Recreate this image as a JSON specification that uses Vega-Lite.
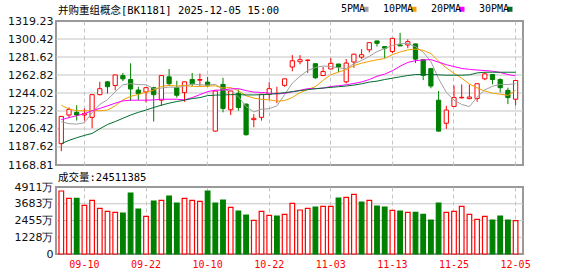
{
  "$schema": "https://vega.github.io/schema/vega-lite/v6.json",
  "background": "white",
  "padding": {"left": 5, "top": 4, "right": 5, "bottom": 2},
  "datasets": {
    "k": [
      {"date":"09-05","open":1191.1,"high":1219.8,"low":1183.2,"close":1219.6,"volume":46180000,"vdir":"up","ma5":1214.0,"ma10":1231.3,"ma20":1216.2,"ma30":1191.1},
      {"date":"09-08","open":1221.0,"high":1229.0,"low":1218.0,"close":1226.9,"volume":40800000,"vdir":"up","ma5":1212.0,"ma10":1227.2,"ma20":1218.3,"ma30":1194.5},
      {"date":"09-09","open":1223.8,"high":1231.3,"low":1215.2,"close":1221.0,"volume":40800000,"vdir":"down","ma5":1211.5,"ma10":1225.5,"ma20":1220.3,"ma30":1197.3},
      {"date":"09-10","open":1221.0,"high":1227.9,"low":1215.2,"close":1222.4,"volume":35670000,"vdir":"up","ma5":1213.0,"ma10":1225.5,"ma20":1222.4,"ma30":1199.7},
      {"date":"09-11","open":1218.6,"high":1242.5,"low":1207.3,"close":1242.3,"volume":39340000,"vdir":"up","ma5":1223.5,"ma10":1225.5,"ma20":1225.5,"ma30":1201.8},
      {"date":"09-12","open":1242.3,"high":1255.7,"low":1241.5,"close":1248.5,"volume":33470000,"vdir":"up","ma5":1232.2,"ma10":1225.5,"ma20":1227.9,"ma30":1206.6},
      {"date":"09-15","open":1255.7,"high":1256.2,"low":1243.4,"close":1250.6,"volume":31270000,"vdir":"up","ma5":1237.0,"ma10":1226.2,"ma20":1230.6,"ma30":1211.1},
      {"date":"09-16","open":1251.9,"high":1263.2,"low":1246.8,"close":1262.9,"volume":30540000,"vdir":"up","ma5":1245.3,"ma10":1230.6,"ma20":1233.4,"ma30":1214.2},
      {"date":"09-17","open":1262.2,"high":1265.0,"low":1256.4,"close":1258.8,"volume":30050000,"vdir":"down","ma5":1252.6,"ma10":1236.8,"ma20":1235.8,"ma30":1217.6},
      {"date":"09-18","open":1258.1,"high":1275.0,"low":1235.8,"close":1248.2,"volume":44710000,"vdir":"down","ma5":1253.8,"ma10":1240.5,"ma20":1236.5,"ma30":1221.0},
      {"date":"09-19","open":1247.1,"high":1250.6,"low":1236.5,"close":1243.4,"volume":32980000,"vdir":"down","ma5":1252.8,"ma10":1242.5,"ma20":1236.5,"ma30":1223.8},
      {"date":"09-22","open":1245.1,"high":1250.0,"low":1234.1,"close":1249.6,"volume":27610000,"vdir":"up","ma5":1252.6,"ma10":1244.8,"ma20":1236.5,"ma30":1226.2},
      {"date":"09-23","open":1249.6,"high":1250.6,"low":1214.2,"close":1242.3,"volume":38850000,"vdir":"down","ma5":1248.5,"ma10":1246.9,"ma20":1236.8,"ma30":1228.9},
      {"date":"09-24","open":1236.5,"high":1262.9,"low":1230.6,"close":1262.2,"volume":39340000,"vdir":"up","ma5":1249.1,"ma10":1250.9,"ma20":1237.5,"ma30":1231.3},
      {"date":"09-25","open":1260.9,"high":1269.1,"low":1251.3,"close":1253.7,"volume":42510000,"vdir":"down","ma5":1250.2,"ma10":1252.0,"ma20":1237.5,"ma30":1233.4},
      {"date":"09-26","open":1249.6,"high":1256.8,"low":1239.2,"close":1241.7,"volume":37380000,"vdir":"down","ma5":1249.9,"ma10":1251.3,"ma20":1237.5,"ma30":1235.1},
      {"date":"09-29","open":1244.4,"high":1256.0,"low":1234.8,"close":1255.7,"volume":40800000,"vdir":"up","ma5":1251.1,"ma10":1251.9,"ma20":1236.8,"ma30":1236.5},
      {"date":"09-30","open":1258.1,"high":1265.0,"low":1251.3,"close":1253.7,"volume":39340000,"vdir":"up","ma5":1253.4,"ma10":1250.9,"ma20":1239.2,"ma30":1238.2},
      {"date":"10-09","open":1257.4,"high":1264.3,"low":1251.3,"close":1258.1,"volume":38600000,"vdir":"up","ma5":1252.6,"ma10":1250.9,"ma20":1242.3,"ma30":1239.2},
      {"date":"10-10","open":1255.4,"high":1260.9,"low":1250.6,"close":1252.0,"volume":46180000,"vdir":"down","ma5":1252.2,"ma10":1251.2,"ma20":1245.5,"ma30":1241.3},
      {"date":"10-13","open":1204.2,"high":1246.5,"low":1203.8,"close":1246.1,"volume":37380000,"vdir":"down","ma5":1253.1,"ma10":1251.5,"ma20":1247.0,"ma30":1241.8},
      {"date":"10-14","open":1253.0,"high":1259.9,"low":1223.8,"close":1227.9,"volume":39580000,"vdir":"down","ma5":1247.6,"ma10":1249.3,"ma20":1247.1,"ma30":1242.0},
      {"date":"10-15","open":1226.5,"high":1246.5,"low":1221.0,"close":1246.1,"volume":34200000,"vdir":"up","ma5":1246.0,"ma10":1249.7,"ma20":1248.3,"ma30":1242.3},
      {"date":"10-16","open":1243.7,"high":1247.8,"low":1225.5,"close":1228.9,"volume":31520000,"vdir":"down","ma5":1240.2,"ma10":1246.4,"ma20":1248.6,"ma30":1242.3},
      {"date":"10-17","open":1232.4,"high":1233.0,"low":1199.7,"close":1200.4,"volume":28590000,"vdir":"down","ma5":1229.9,"ma10":1241.1,"ma20":1246.5,"ma30":1242.0},
      {"date":"10-20","open":1216.2,"high":1222.0,"low":1208.3,"close":1217.6,"volume":24680000,"vdir":"up","ma5":1224.2,"ma10":1238.7,"ma20":1245.0,"ma30":1242.0},
      {"date":"10-21","open":1218.6,"high":1243.0,"low":1215.2,"close":1242.7,"volume":31270000,"vdir":"up","ma5":1227.1,"ma10":1237.4,"ma20":1244.6,"ma30":1242.3},
      {"date":"10-22","open":1242.7,"high":1255.4,"low":1237.5,"close":1248.5,"volume":28340000,"vdir":"up","ma5":1227.6,"ma10":1236.9,"ma20":1243.9,"ma30":1242.7},
      {"date":"10-23","open":1243.4,"high":1250.6,"low":1233.4,"close":1243.7,"volume":27850000,"vdir":"down","ma5":1230.6,"ma10":1235.5,"ma20":1243.1,"ma30":1243.4},
      {"date":"10-24","open":1252.0,"high":1259.0,"low":1250.6,"close":1258.8,"volume":29070000,"vdir":"up","ma5":1242.3,"ma10":1236.1,"ma20":1243.6,"ma30":1244.4},
      {"date":"10-27","open":1271.2,"high":1283.6,"low":1266.7,"close":1277.7,"volume":37140000,"vdir":"up","ma5":1254.3,"ma10":1239.3,"ma20":1245.3,"ma30":1245.4},
      {"date":"10-28","open":1276.7,"high":1283.6,"low":1274.0,"close":1278.8,"volume":32250000,"vdir":"up","ma5":1261.5,"ma10":1244.4,"ma20":1246.8,"ma30":1246.5},
      {"date":"10-29","open":1278.1,"high":1278.6,"low":1265.0,"close":1278.4,"volume":33470000,"vdir":"up","ma5":1267.5,"ma10":1247.6,"ma20":1248.6,"ma30":1247.5},
      {"date":"10-30","open":1274.6,"high":1275.0,"low":1258.8,"close":1259.9,"volume":34450000,"vdir":"down","ma5":1270.7,"ma10":1250.7,"ma20":1248.5,"ma30":1248.5},
      {"date":"10-31","open":1262.3,"high":1271.2,"low":1261.6,"close":1266.4,"volume":34940000,"vdir":"up","ma5":1272.2,"ma10":1257.3,"ma20":1249.1,"ma30":1249.2},
      {"date":"11-03","open":1269.1,"high":1280.5,"low":1269.0,"close":1275.0,"volume":34940000,"vdir":"up","ma5":1271.7,"ma10":1263.1,"ma20":1250.8,"ma30":1249.9},
      {"date":"11-04","open":1274.3,"high":1274.5,"low":1265.7,"close":1271.2,"volume":41050000,"vdir":"down","ma5":1270.2,"ma10":1265.9,"ma20":1251.6,"ma30":1250.6},
      {"date":"11-05","open":1255.7,"high":1279.5,"low":1254.0,"close":1275.3,"volume":41540000,"vdir":"up","ma5":1269.6,"ma10":1268.6,"ma20":1252.6,"ma30":1251.3},
      {"date":"11-06","open":1276.4,"high":1285.0,"low":1270.2,"close":1284.6,"volume":43730000,"vdir":"up","ma5":1274.5,"ma10":1272.7,"ma20":1254.0,"ma30":1252.3},
      {"date":"11-07","open":1281.5,"high":1289.8,"low":1279.4,"close":1284.0,"volume":38120000,"vdir":"down","ma5":1278.0,"ma10":1275.2,"ma20":1255.6,"ma30":1253.6},
      {"date":"11-10","open":1289.1,"high":1297.0,"low":1286.3,"close":1296.6,"volume":39340000,"vdir":"up","ma5":1282.3,"ma10":1277.0,"ma20":1258.1,"ma30":1255.4},
      {"date":"11-11","open":1298.4,"high":1298.6,"low":1292.5,"close":1295.9,"volume":35180000,"vdir":"down","ma5":1287.3,"ma10":1278.7,"ma20":1261.5,"ma30":1256.4},
      {"date":"11-12","open":1292.5,"high":1292.8,"low":1280.5,"close":1290.8,"volume":34450000,"vdir":"down","ma5":1290.4,"ma10":1280.0,"ma20":1263.7,"ma30":1258.1},
      {"date":"11-13","open":1287.4,"high":1301.5,"low":1285.6,"close":1301.1,"volume":32010000,"vdir":"up","ma5":1293.7,"ma10":1284.1,"ma20":1267.3,"ma30":1259.5},
      {"date":"11-14","open":1294.2,"high":1306.9,"low":1293.0,"close":1293.2,"volume":31520000,"vdir":"down","ma5":1295.5,"ma10":1286.8,"ma20":1272.0,"ma30":1260.9},
      {"date":"11-17","open":1294.2,"high":1300.0,"low":1290.8,"close":1297.6,"volume":30540000,"vdir":"up","ma5":1295.7,"ma10":1289.0,"ma20":1276.0,"ma30":1262.3},
      {"date":"11-18","open":1295.3,"high":1295.5,"low":1275.3,"close":1279.4,"volume":30540000,"vdir":"down","ma5":1292.4,"ma10":1289.9,"ma20":1277.8,"ma30":1263.3},
      {"date":"11-19","open":1278.8,"high":1279.0,"low":1257.5,"close":1262.3,"volume":29070000,"vdir":"down","ma5":1286.7,"ma10":1288.6,"ma20":1278.5,"ma30":1263.3},
      {"date":"11-20","open":1269.5,"high":1269.8,"low":1248.9,"close":1251.3,"volume":24920000,"vdir":"down","ma5":1276.8,"ma10":1285.2,"ma20":1278.9,"ma30":1263.3},
      {"date":"11-21","open":1236.5,"high":1246.1,"low":1203.8,"close":1204.2,"volume":37380000,"vdir":"down","ma5":1259.0,"ma10":1277.3,"ma20":1276.2,"ma30":1263.0},
      {"date":"11-24","open":1212.4,"high":1230.6,"low":1206.6,"close":1226.2,"volume":30540000,"vdir":"up","ma5":1244.7,"ma10":1270.3,"ma20":1273.6,"ma30":1262.6},
      {"date":"11-25","open":1230.0,"high":1251.9,"low":1229.9,"close":1239.2,"volume":31270000,"vdir":"up","ma5":1236.6,"ma10":1264.6,"ma20":1271.6,"ma30":1262.6},
      {"date":"11-26","open":1239.0,"high":1253.0,"low":1238.2,"close":1239.5,"volume":34940000,"vdir":"up","ma5":1232.1,"ma10":1259.5,"ma20":1269.7,"ma30":1262.6},
      {"date":"11-27","open":1238.1,"high":1253.0,"low":1237.5,"close":1239.8,"volume":29070000,"vdir":"up","ma5":1229.8,"ma10":1253.4,"ma20":1268.7,"ma30":1263.0},
      {"date":"11-28","open":1238.2,"high":1254.0,"low":1234.8,"close":1253.7,"volume":25410000,"vdir":"up","ma5":1239.7,"ma10":1249.4,"ma20":1268.0,"ma30":1265.0},
      {"date":"12-01","open":1258.8,"high":1265.7,"low":1257.4,"close":1264.0,"volume":27610000,"vdir":"up","ma5":1247.2,"ma10":1246.1,"ma20":1267.5,"ma30":1265.7},
      {"date":"12-02","open":1263.3,"high":1263.5,"low":1253.0,"close":1258.1,"volume":24920000,"vdir":"down","ma5":1251.0,"ma10":1243.9,"ma20":1266.8,"ma30":1265.7},
      {"date":"12-03","open":1258.1,"high":1259.4,"low":1244.6,"close":1249.6,"volume":27850000,"vdir":"down","ma5":1253.0,"ma10":1242.7,"ma20":1265.5,"ma30":1265.7},
      {"date":"12-04","open":1246.8,"high":1249.6,"low":1232.4,"close":1239.2,"volume":24920000,"vdir":"down","ma5":1252.9,"ma10":1241.5,"ma20":1263.3,"ma30":1265.7},
      {"date":"12-05","open":1237.5,"high":1257.4,"low":1231.0,"close":1257.1,"volume":24511385,"vdir":"up","ma5":1253.6,"ma10":1246.8,"ma20":1261.9,"ma30":1265.7}
    ],
    "pgrid": [{"level": 1187.62}, {"level": 1206.42}, {"level": 1225.22}, {"level": 1244.02}, {"level": 1262.82}, {"level": 1281.62}, {"level": 1300.42}],
    "vgrid": [{"level": 12280000}, {"level": 24550000}, {"level": 36830000}]
  },
  "data": {"name": "k"},
  "spacing": 22,
  "bounds": "flush",
  "config": {
    "view": {"stroke": "#999999", "strokeWidth": 2},
    "axis": {"title": null, "domain": false, "ticks": false},
    "axisY": {"labelFont": "DejaVu Sans", "labelFontSize": 11, "labelColor": "#111111", "labelPadding": 3, "minExtent": 50, "maxExtent": 50, "labelFlush": false, "labelOverlap": false, "grid": false, "tickCount": 12},
    "axisX": {"gridDash": [4, 3], "gridColor": "#c4c4c4", "bandPosition": 0.5, "labelFont": "DejaVu Sans Mono", "labelFontSize": 10, "labelColor": "#ff0000", "labelAngle": 0, "labelPadding": 5, "labelFlush": false, "labelOverlap": false},
    "title": {"font": "DejaVu Sans Mono, Noto Sans CJK SC", "fontSize": 10.5, "fontWeight": "normal", "color": "#000000", "anchor": "start", "frame": "group"}
  },
  "vconcat": [
    {
      "width": 467,
      "height": 144,
      "title": {"text": "并购重组概念[BK1181] 2025-12-05 15:00", "offset": -1, "dx": 2},
      "layer": [
        {
          "data": {"name": "pgrid"},
          "mark": {"type": "rule", "color": "#c4c4c4", "strokeWidth": 1},
          "encoding": {"y": {"field": "level", "type": "quantitative"}}
        },
        {
          "mark": {"type": "rule", "strokeWidth": 1},
          "encoding": {
            "x": {"field": "date", "type": "ordinal", "sort": null,
                  "scale": {"type": "band", "paddingInner": 0, "paddingOuter": 0.325, "align": 0.29},
                  "axis": {"values": ["09-10","09-22","10-10","10-22","11-03","11-13","11-25","12-05"], "labels": false, "grid": true}},
            "y": {"field": "low", "type": "quantitative",
                  "scale": {"domain": [1168.81, 1319.23], "nice": false, "zero": false},
                  "axis": {"values": [1168.81, 1187.62, 1206.42, 1225.22, 1244.02, 1262.82, 1281.62, 1300.42, 1319.23], "tickCount": 12, "format": ".2f", "labelOverlap": false}},
            "y2": {"field": "high"},
            "color": {"condition": {"test": "datum.close >= datum.open", "value": "#ff0000"}, "value": "#008000"}
          }
        },
        {
          "mark": {"type": "bar", "width": {"band": 0.55}, "strokeWidth": 1},
          "encoding": {
            "x": {"field": "date", "type": "ordinal", "sort": null},
            "y": {"field": "open", "type": "quantitative"},
            "y2": {"field": "close"},
            "fill": {"condition": {"test": "datum.close >= datum.open", "value": "#ffffff"}, "value": "#008000"},
            "stroke": {"condition": {"test": "datum.close >= datum.open", "value": "#ff0000"}, "value": "#008000"}
          }
        },
        {
          "transform": [{"fold": ["ma5", "ma10", "ma20", "ma30"], "as": ["ma", "val"]}],
          "mark": {"type": "line", "strokeWidth": 1},
          "encoding": {
            "x": {"field": "date", "type": "ordinal", "sort": null},
            "y": {"field": "val", "type": "quantitative"},
            "color": {"field": "ma", "type": "nominal",
                      "scale": {"domain": ["ma5", "ma10", "ma20", "ma30"], "range": ["#a0a0a0", "#f0a000", "#ff00ff", "#006e30"]},
                      "legend": {"orient": "none", "legendX": 305, "legendY": -17, "direction": "horizontal", "title": null,
                                 "symbolType": "square", "symbolSize": 1, "symbolStrokeWidth": 4,
                                 "labelFont": "DejaVu Sans Mono", "labelFontSize": 10, "labelColor": "#000000",
                                 "labelAlign": "right", "labelOffset": -6, "columnPadding": 7,
                                 "labelExpr": "datum.label == 'ma5' ? '5PMA' : datum.label == 'ma10' ? '10PMA' : datum.label == 'ma20' ? '20PMA' : '30PMA'"}}
          }
        }
      ]
    },
    {
      "width": 467,
      "height": 67,
      "title": {"text": "成交量:24511385", "offset": -2, "dx": 2},
      "layer": [
        {
          "data": {"name": "vgrid"},
          "mark": {"type": "rule", "color": "#c4c4c4", "strokeWidth": 1},
          "encoding": {"y": {"field": "level", "type": "quantitative"}}
        },
        {
          "mark": {"type": "bar", "width": {"band": 0.6}, "strokeWidth": 1.2},
          "encoding": {
            "x": {"field": "date", "type": "ordinal", "sort": null,
                  "scale": {"type": "band", "paddingInner": 0, "paddingOuter": 0.325, "align": 0.29},
                  "axis": {"values": ["09-10","09-22","10-10","10-22","11-03","11-13","11-25","12-05"], "grid": true}},
            "y": {"field": "volume", "type": "quantitative",
                  "scale": {"domain": [0, 49110000], "nice": false},
                  "axis": {"values": [0, 12280000, 24550000, 36830000, 49110000], "tickCount": 12,
                           "labelExpr": "datum.value == 0 ? '0' : format(datum.value / 10000, 'd') + '万'"}},
            "fill": {"condition": {"test": "datum.vdir == 'up'", "value": "#ffffff"}, "value": "#008000"},
            "stroke": {"condition": {"test": "datum.vdir == 'up'", "value": "#ff0000"}, "value": "#008000"}
          }
        }
      ]
    }
  ]
}
